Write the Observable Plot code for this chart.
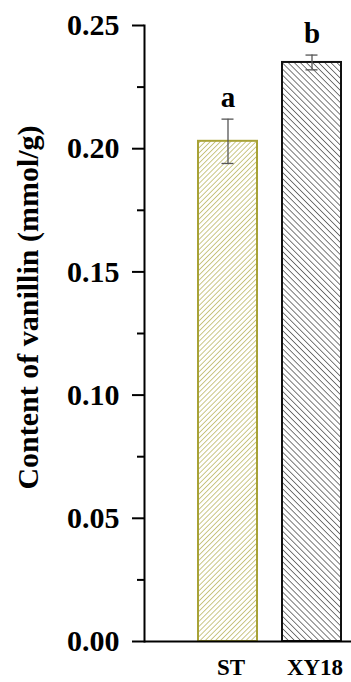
<!DOCTYPE html>
<html>
<head>
<meta charset="utf-8">
<script src="https://cdn.jsdelivr.net/npm/d3@7"></script>
<script src="https://cdn.jsdelivr.net/npm/@observablehq/plot@0.6"></script>
<style>
  html, body { margin: 0; padding: 0; background: #fff; }
  svg { display: block; }
  svg text { font-family: 'Liberation Serif', 'Times New Roman', serif; }
</style>
</head>
<body>
<div id="chart"></div>
<script>
const groups = ["ST", "XY18"];
const values = [0.203, 0.235];
const errors = [0.009, 0.003];
const letters = ["a", "b"];
const majorTicks = [0, 0.05, 0.10, 0.15, 0.20, 0.25];
const minorTicks = [0.025, 0.075, 0.125, 0.175, 0.225];
const yLabel = "Content of vanillin (mmol/g)";

const olive = "#a8a236";
const fills = {ST: "url(#hatchST)", XY18: "url(#hatchXY)"};
const strokes = {ST: olive, XY18: "#111"};

const data = groups.map((g, i) => ({group: g, value: values[i], err: errors[i], letter: letters[i]}));

const defs = () => {
  const ns = "http://www.w3.org/2000/svg";
  const d = document.createElementNS(ns, "defs");
  d.innerHTML = `
    <pattern id="hatchST" patternUnits="userSpaceOnUse" width="3.6" height="3.6" patternTransform="rotate(45)">
      <line x1="0" y1="0" x2="0" y2="3.6" stroke="${olive}" stroke-width="1.2"/>
    </pattern>
    <pattern id="hatchXY" patternUnits="userSpaceOnUse" width="4.3" height="4.3" patternTransform="rotate(-45)">
      <line x1="0" y1="0" x2="0" y2="4.3" stroke="#222" stroke-width="1.2"/>
    </pattern>`;
  return d;
};

const chart = Plot.plot({
  width: 351,
  height: 682,
  marginLeft: 144,
  marginRight: 0,
  marginTop: 25,
  marginBottom: 41,
  style: {fontWeight: "bold", color: "#000", background: "#fff"},
  x: {domain: groups, range: [198, 341], paddingInner: 0.3, paddingOuter: 0, axis: null},
  y: {domain: [0, 0.25], axis: null},
  marks: [
    defs,
    Plot.barY(data, {x: "group", y: "value", fill: d => fills[d.group], stroke: d => strokes[d.group], strokeWidth: 2}),
    Plot.ruleX(data, {x: "group", y1: d => d.value - d.err, y2: d => d.value + d.err, stroke: "#555", strokeWidth: 1.3}),
    Plot.tickY(data, {x: "group", y: d => d.value - d.err, stroke: "#555", strokeWidth: 1.3, insetLeft: 23.5, insetRight: 23.5}),
    Plot.tickY(data, {x: "group", y: d => d.value + d.err, stroke: "#555", strokeWidth: 1.3, insetLeft: 23.5, insetRight: 23.5}),
    Plot.text(data, {x: "group", y: d => d.value + d.err, text: "letter", dy: -21, fontSize: 29, fontWeight: "bold", fill: "#000"}),
    Plot.axisY(minorTicks, {tickSize: 7, tickFormat: () => "", strokeWidth: 2, label: null}),
    Plot.axisY(majorTicks, {tickSize: 12, tickPadding: 13, tickFormat: d3.format(".2f"), fontSize: 30, strokeWidth: 2, label: null}),
    Plot.text([yLabel], {frameAnchor: "left", rotate: -90, dx: -116, dy: -26, fontSize: 30, fontWeight: "bold", fill: "#000", textAnchor: "middle", lineAnchor: "middle"}),
    Plot.axisX(groups, {tickSize: 0, tickPadding: 17.5, fontSize: 23, dx: 3, label: null}),
    Plot.frame({anchor: "left", strokeWidth: 2}),
    Plot.ruleY([0], {strokeWidth: 2})
  ]
});
document.getElementById("chart").appendChild(chart);
</script>
</body>
</html>
